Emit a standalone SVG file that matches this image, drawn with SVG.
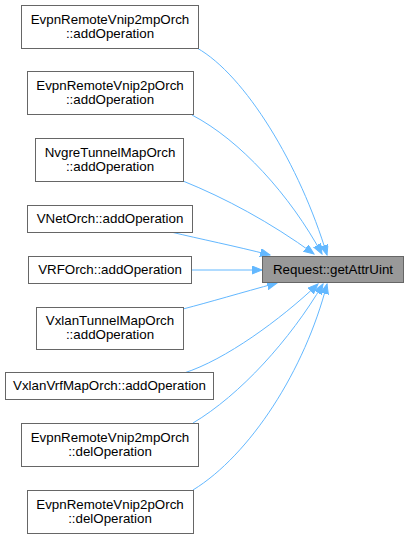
<svg xmlns="http://www.w3.org/2000/svg" width="408" height="539" viewBox="0 0 408 539">
<style>
.n rect{fill:#fff;stroke:#666;stroke-width:1}
.t rect{fill:#999;stroke:#666;stroke-width:1}
text{font-family:"Liberation Sans",Arial,sans-serif;font-size:13.33px;fill:#000;text-anchor:middle}
.e path{fill:none;stroke:#63b8ff;stroke-width:1;marker-end:url(#ah)}
</style>
<defs>
<marker id="ah" markerUnits="userSpaceOnUse" markerWidth="11" markerHeight="9" refX="10" refY="4" orient="auto">
<path d="M0,0 L10,4 L0,8 z" fill="#63b8ff" stroke="#63b8ff" stroke-width="1"/>
</marker>
</defs>
<g id="edges" class="e">
<path d="M197,48 C245,75 300,165 327,255"/>
<path d="M192,115 C240,140 290,195 322,254"/>
<path d="M183,181 C225,198 270,222 314,254"/>
<path d="M171,232 C200,239 235,246 270,255"/>
<path d="M191,270 L262,270"/>
<path d="M183,309 C210,302 240,293 277,283"/>
<path d="M184,373 C225,360 280,320 318,284"/>
<path d="M193,423 C240,395 290,340 323,284"/>
<path d="M193,490 C250,455 305,370 327,284"/>
</g>
<g id="n1" class="n"><rect x="21.5" y="5.5" width="177" height="43"/><text x="110" y="24">EvpnRemoteVnip2mpOrch</text><text x="110" y="38">::addOperation</text></g>
<g id="n2" class="n"><rect x="27.5" y="71.5" width="166" height="43"/><text x="110" y="90">EvpnRemoteVnip2pOrch</text><text x="110" y="104">::addOperation</text></g>
<g id="n3" class="n"><rect x="35.5" y="138.5" width="148" height="43"/><text x="110" y="157">NvgreTunnelMapOrch</text><text x="110" y="171">::addOperation</text></g>
<g id="n4" class="n"><rect x="27.5" y="205.5" width="165" height="27"/><text x="110" y="223">VNetOrch::addOperation</text></g>
<g id="n5" class="n"><rect x="28.5" y="256.5" width="163" height="27"/><text x="110" y="274">VRFOrch::addOperation</text></g>
<g id="n6" class="n"><rect x="36.5" y="307.5" width="147" height="42"/><text x="110" y="325">VxlanTunnelMapOrch</text><text x="110" y="339">::addOperation</text></g>
<g id="n7" class="n"><rect x="5.5" y="372.5" width="208" height="27"/><text x="109.5" y="390">VxlanVrfMapOrch::addOperation</text></g>
<g id="n8" class="n"><rect x="21.5" y="423.5" width="177" height="43"/><text x="110" y="442">EvpnRemoteVnip2mpOrch</text><text x="110" y="456">::delOperation</text></g>
<g id="n9" class="n"><rect x="27.5" y="490.5" width="166" height="43"/><text x="110" y="509">EvpnRemoteVnip2pOrch</text><text x="110" y="523">::delOperation</text></g>
<g id="target" class="t"><rect x="262.5" y="256.5" width="141" height="26"/><text x="333" y="274">Request::getAttrUint</text></g>
</svg>
